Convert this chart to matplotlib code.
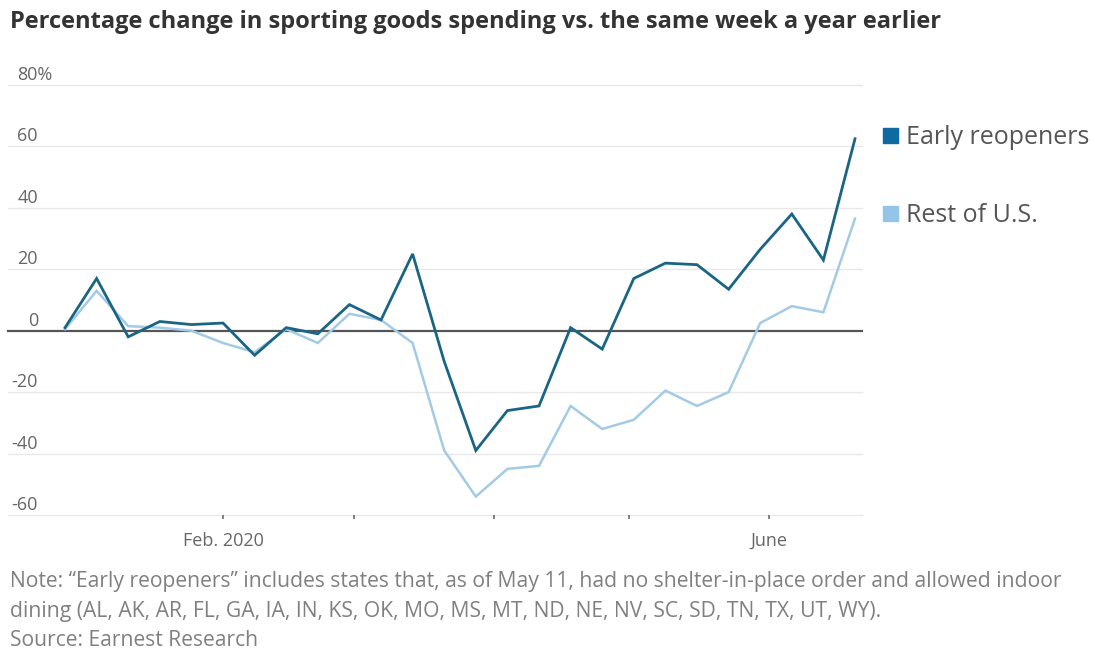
import numpy as np
import pandas as pd
import matplotlib
matplotlib.use("Agg")
import matplotlib.pyplot as plt
import matplotlib.dates as mdates

# --- data (weekly) ---
weeks = pd.date_range("2019-12-28", periods=26, freq="7D")
early_reopeners = [1, 17, -2, 3, 2, 2.5, -8, 1, -1, 8.5, 3.5, 25,
                   -10, -39, -26, -24.5, 1, -6, 17, 22, 21.5, 13.5,
                   26.5, 38, 23, 62.5]
rest_of_us = [0.5, 13, 1.5, 1, 0, -4, -7, 0.5, -4, 5.5, 3.5, -4,
              -39, -54, -45, -44, -24.5, -32, -29, -19.5, -24.5, -20,
              2.5, 8, 6, 36.5]
y_ticks = [80, 60, 40, 20, 0, -20, -40, -60]
x_tick_months = ["2020-02-01", "2020-03-01", "2020-04-01", "2020-05-01", "2020-06-01"]
x_tick_labels = ["Feb. 2020", "", "", "", "June"]

DARK = "#1b6584"
LIGHT = "#a3cbe6"
DARK_SQ = "#0f69a3"
LIGHT_SQ = "#93c5ea"
GRID = "#e8e8e8"
TEXT = "#666666"

W, H = 1095, 653
fig = plt.figure(figsize=(W / 100, H / 100), dpi=100)
plt.rcParams["font.family"] = ["Open Sans", "DejaVu Sans"]

def px(x, y):
    return x / W, 1 - y / H

# axes box in pixels: x 8..862, y 85 (80%) .. 515 (-60)
ax = fig.add_axes([8 / W, 1 - 515 / H, (862 - 8) / W, (515 - 85) / H])
ax.set_ylim(-60, 80)
x0 = mdates.date2num(pd.Timestamp("2019-12-28")) - 12.63
x1 = mdates.date2num(pd.Timestamp("2020-06-20")) + 1.55
ax.set_xlim(x0, x1)

for v in y_ticks:
    if v == 0:
        continue
    ax.axhline(v, color=GRID, lw=1.0, zorder=1, clip_on=False)
ax.axhline(0, color="#555555", lw=1.6, zorder=2, clip_on=False)

xd = mdates.date2num(weeks)
ax.plot(xd, rest_of_us, color=LIGHT, lw=1.8, zorder=3, solid_joinstyle="miter")
ax.plot(xd, early_reopeners, color=DARK, lw=2.0, zorder=4, solid_joinstyle="miter")

for s in ax.spines.values():
    s.set_visible(False)
ax.set_yticks([])
ax.set_xticks(mdates.date2num(pd.to_datetime(x_tick_months)))
ax.set_xticklabels(x_tick_labels)
ax.tick_params(axis="x", direction="out", length=3, width=1.3, color="#777777",
               labelsize=13, labelcolor=TEXT, pad=9)

# y labels sit above gridlines, right-aligned at x=38 (top one carries the %)
for v in y_ticks:
    yp = ax.transData.transform((0, v))[1]
    yfig = yp / H + 10 / H
    if v == 80:
        fig.text(17 / W, yfig, "80%", ha="left", va="center", fontsize=13, color=TEXT)
    else:
        fig.text(38 / W, yfig, str(v), ha="right", va="center", fontsize=13, color=TEXT)

# legend
fig.patches.append(plt.Rectangle(px(883, 143), 15 / W, 15 / H, transform=fig.transFigure,
                                 color=DARK_SQ, zorder=5))
fig.patches.append(plt.Rectangle(px(883, 221), 15 / W, 15 / H, transform=fig.transFigure,
                                 color=LIGHT_SQ, zorder=5))
fig.text(*px(906, 137), "Early reopeners", ha="left", va="center", fontsize=18, color="#555555")
fig.text(*px(906, 216), "Rest of U.S.", ha="left", va="center", fontsize=18, color="#555555")

# title and notes
fig.text(*px(10, 22), "Percentage change in sporting goods spending vs. the same week a year earlier",
         ha="left", va="center", fontsize=17, fontweight="bold", color="#333333")
fig.text(*px(10, 582), "Note: \u201cEarly reopeners\u201d includes states that, as of May 11, had no shelter-in-place order and allowed indoor",
         ha="left", va="center", fontsize=15.2, color="#808080")
fig.text(*px(10, 611), "dining (AL, AK, AR, FL, GA, IA, IN, KS, OK, MO, MS, MT, ND, NE, NV, SC, SD, TN, TX, UT, WY).",
         ha="left", va="center", fontsize=15.2, color="#808080")
fig.text(*px(10, 641), "Source: Earnest Research",
         ha="left", va="center", fontsize=15.2, color="#808080")

fig.savefig("out.png", dpi=100)
